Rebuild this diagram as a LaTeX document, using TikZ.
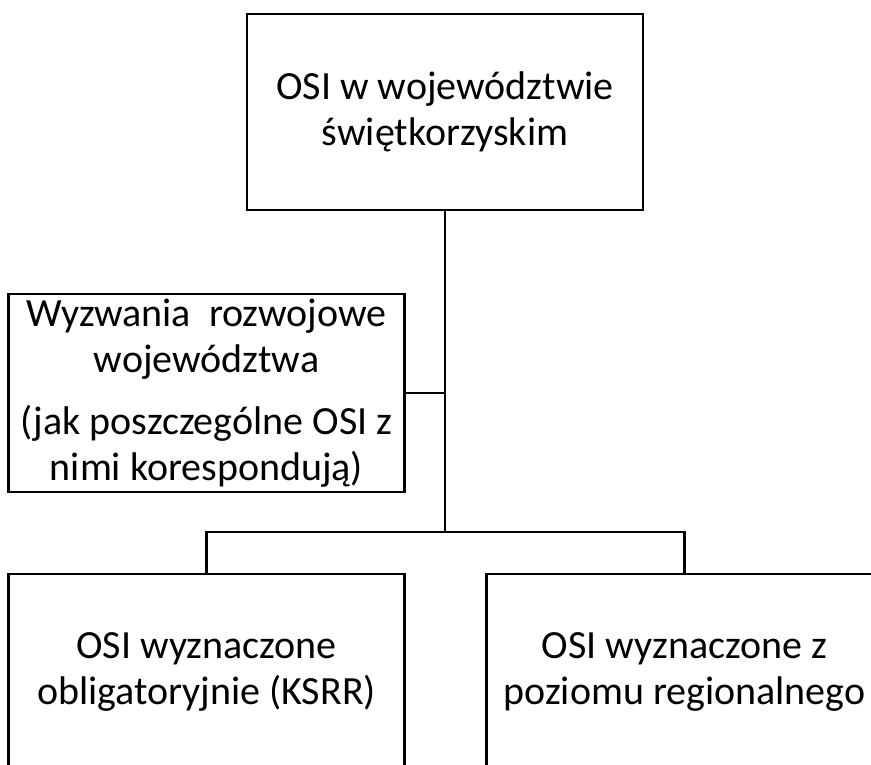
\documentclass[tikz,border=0pt]{standalone}
\usepackage{fontspec}
\setmainfont{Carlito}

\begin{document}
\begin{tikzpicture}[x=1pt,y=-1pt]
  \tikzset{ramka/.style={draw,rectangle,line width=2.2pt,minimum width=396pt,minimum height=#1,align=center,inner sep=0pt,font=\fontsize{40}{46}\selectfont}}
  \tikzset{linia/.style={line width=2.2pt}}

  \clip (0,0) rectangle (871,764);

  \node [ramka=196pt] (osi) at (445,112) {OSI w województwie\\świętkorzyskim};
  \node [ramka=198pt] (wyzwania) at (206.5,393) {Wyzwania\ \ rozwojowe\\województwa\\[16pt](jak poszczególne OSI z\\nimi korespondują)};
  \node [ramka=196pt] (obligatoryjne) at (206.5,672) {OSI wyznaczone\\obligatoryjnie (KSRR)};
  \node [ramka=196pt] (regionalne) at (684.5,672) {OSI wyznaczone z\\poziomu regionalnego};

  \coordinate (rozgalezienie) at (445,532);

  \draw [linia] (osi) -- (rozgalezienie);
  \draw [linia] (wyzwania.east) -- (wyzwania.east -| rozgalezienie);
  \draw [linia] (obligatoryjne.north) |- (rozgalezienie) -| (regionalne.north);
\end{tikzpicture}
\end{document}
